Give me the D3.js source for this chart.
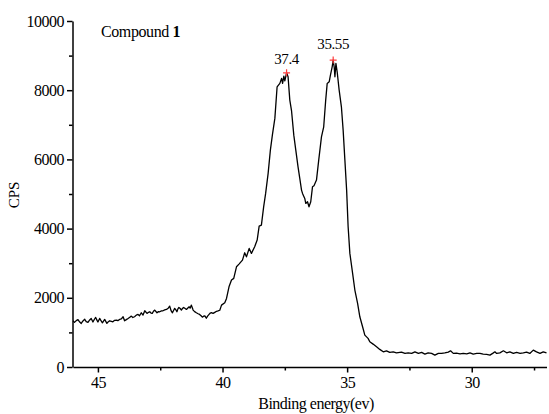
<!DOCTYPE html>
<meta charset="utf-8">
<style>
body { margin: 0; background: #fff; }
.axis path, .axis line { stroke: #000; stroke-width: 1.5px; }
.spectrum { fill: none; stroke: #000; stroke-width: 1.3px; stroke-linejoin: round; }
.peak { fill: none; stroke: #ff3b3b; stroke-width: 1.2px; }
</style>
<body>
<svg width="549" height="414"></svg>
</body>
<script src="https://d3js.org/d3.v7.min.js"></script>
<script>
var serif = "'Liberation Serif', 'Times New Roman', serif";

// binding energy (eV)
var energy = [46.00,45.94,45.87,45.80,45.73,45.67,45.60,45.53,45.47,45.40,45.33,45.27,45.20,45.14,45.09,45.03,45.00,
    44.93,44.87,44.82,44.73,44.64,44.58,44.53,44.46,44.40,44.33,44.26,44.20,44.13,44.06,43.99,43.93,43.86,43.79,
    43.72,43.66,43.60,43.53,43.46,43.39,43.33,43.26,43.19,43.12,43.03,42.97,42.92,42.87,42.82,42.77,42.72,42.63,
    42.57,42.52,42.45,42.39,42.32,42.25,42.18,42.12,42.06,42.01,41.96,41.92,41.87,41.83,41.79,41.75,41.70,41.65,
    41.60,41.56,41.50,41.45,41.40,41.34,41.30,41.25,41.18,41.12,41.05,40.98,40.92,40.86,40.81,40.76,40.71,40.65,
    40.60,40.54,40.49,40.45,40.38,40.31,40.24,40.18,40.11,
    40.04,39.91,39.84,39.74,39.64,39.55,39.44,39.34,39.20,39.11,39.04,38.93,38.84,38.71,38.61,38.53,38.44,38.35,
    38.27,38.17,38.08,38.00,37.90,37.81,37.70,37.63,37.59,37.54,37.50,37.43,37.37,37.30,37.23,37.14,37.06,36.97,
    36.90,36.83,36.79,36.70,36.66,36.59,36.53,36.46,36.39,36.33,36.23,36.14,36.03,35.94,35.86,35.80,35.72,35.67,
    35.60,35.56,35.52,35.49,35.45,35.40,35.32,35.23,35.16,35.09,35.02,34.96,34.89,34.78,34.69,34.58,34.49,34.38,
    34.29,34.16,34.09,33.96,33.82,33.69,33.55,33.42,33.29,33.15,33.02,32.82,32.68,32.55,32.41,32.28,32.14,32.01,
    31.88,31.75,31.61,31.48,31.34,31.21,31.08,30.94,30.85,30.74,30.61,30.47,30.34,30.20,30.07,29.94,29.80,29.67,
    29.54,29.40,29.27,29.16,29.07,29.00,28.87,28.73,28.60,28.47,28.33,28.20,28.06,27.93,27.80,27.67,27.53,27.40,
    27.26,27.13,27.00];

// counts per second
var cps = [1336,1290,1340,1370,1300,1259,1330,1380,1310,1290,1360,1404,1300,1380,1433,1340,1300,
    1404,1330,1278,1375,1259,1310,1336,1320,1307,1350,1355,1340,1375,1390,1452,1336,1370,1404,
    1440,1471,1430,1452,1500,1519,1480,1567,1500,1625,1548,1580,1596,1560,1548,1610,1645,1567,
    1600,1596,1620,1625,1650,1664,1700,1760,1620,1567,1640,1693,1650,1596,1680,1722,1690,1645,
    1700,1722,1690,1664,1700,1741,1700,1789,1645,1600,1567,1540,1520,1480,1440,1470,1480,1410,
    1470,1520,1560,1570,1550,1580,1610,1620,1640,
    1789,1856,1983,2318,2512,2561,2896,2974,3090,3301,3185,3428,3283,3474,3668,4072,4101,4630,
    5017,5595,6269,6702,7185,8098,8197,8341,8197,8408,8272,8503,8387,7714,7400,6700,6269,5786,
    5450,5113,5017,4873,4728,4775,4630,4775,5208,5238,5402,5980,6653,6942,7714,8197,8243,8436,
    8676,8870,8676,8387,8775,8532,8003,7520,6847,5980,5113,4052,3283,2705,2225,1838,1451,1162,
    922,827,728,662,584,509,439,468,422,439,410,431,393,410,393,439,393,422,
    373,410,393,344,393,393,410,431,468,393,402,382,393,382,410,373,393,393,
    373,364,344,393,439,393,410,468,410,439,393,422,393,410,431,393,488,439,
    393,439,410];

var peakEnergy = [37.43, 35.56];
var peakCps = [8503, 8870];
var peakLabels = ["37.4", "35.55"];

var xTicks = [45, 40, 35, 30];
var xMinor = [42.5, 37.5, 32.5, 27.5];
var yTicks = [0, 2000, 4000, 6000, 8000, 10000];
var yMinor = [1000, 3000, 5000, 7000, 9000];

var svg = d3.select("svg");

var x = d3.scaleLinear().domain([46, 27]).range([73, 546.5]);
var y = d3.scaleLinear().domain([0, 10000]).range([367, 21]);

// minor ticks first, so the major axis draws over them
svg.append("g")
    .attr("class", "axis")
    .attr("transform", "translate(0,367)")
    .call(d3.axisBottom(x).tickValues(xMinor).tickSize(3.5).tickFormat(""))
    .select(".domain").remove();

svg.append("g")
    .attr("class", "axis")
    .attr("transform", "translate(72.5,0)")
    .call(d3.axisLeft(y).tickValues(yMinor).tickSize(3.5).tickFormat(""))
    .select(".domain").remove();

svg.append("g")
    .attr("class", "axis")
    .attr("transform", "translate(0,367)")
    .call(d3.axisBottom(x).tickValues(xTicks).tickSize(5.5).tickSizeOuter(0).tickPadding(4)
        .tickFormat(d3.format("d")));

svg.append("g")
    .attr("class", "axis")
    .attr("transform", "translate(72.5,0)")
    .call(d3.axisLeft(y).tickValues(yTicks).tickSize(5.5).tickSizeOuter(0).tickPadding(3)
        .tickFormat(d3.format("d")));

svg.selectAll(".axis")
    .attr("font-family", serif)
    .attr("font-size", 16);
svg.selectAll(".axis text")
    .style("font-family", serif)
    .attr("fill", "#000")
    .attr("letter-spacing", "-0.5");

var line = d3.line()
    .x(function(d, i) { return x(energy[i]); })
    .y(function(d) { return y(d); });

svg.append("path")
    .datum(cps)
    .attr("class", "spectrum")
    .attr("d", line);

var peaks = svg.append("g")
    .selectAll("g")
    .data(peakEnergy)
    .enter().append("g")
    .attr("transform", function(d, i) { return "translate(" + x(d) + "," + y(peakCps[i]) + ")"; });

peaks.append("path")
    .attr("class", "peak")
    .attr("d", "M-3.5,0H3.5M0,-3.5V3.5");

peaks.append("text")
    .attr("y", function(d, i) { return i === 0 ? -9 : -11; })
    .attr("text-anchor", "middle")
    .style("font-family", serif)
    .attr("font-size", "15px")
    .attr("letter-spacing", "-0.4")
    .text(function(d, i) { return peakLabels[i]; });

var title = svg.append("text")
    .attr("x", 101)
    .attr("y", 37)
    .style("font-family", serif)
    .attr("font-size", "16px")
    .attr("letter-spacing", "-0.4");
title.append("tspan").text("Compound ");
title.append("tspan").attr("font-weight", "bold").text("1");

svg.append("text")
    .attr("x", 316)
    .attr("y", 409)
    .attr("text-anchor", "middle")
    .style("font-family", serif)
    .attr("font-size", "16px")
    .attr("letter-spacing", "-0.5")
    .text("Binding energy(ev)");

svg.append("text")
    .attr("transform", "translate(19,195) rotate(-90)")
    .attr("text-anchor", "middle")
    .style("font-family", serif)
    .attr("font-size", "15px")
    .text("CPS");
</script>
